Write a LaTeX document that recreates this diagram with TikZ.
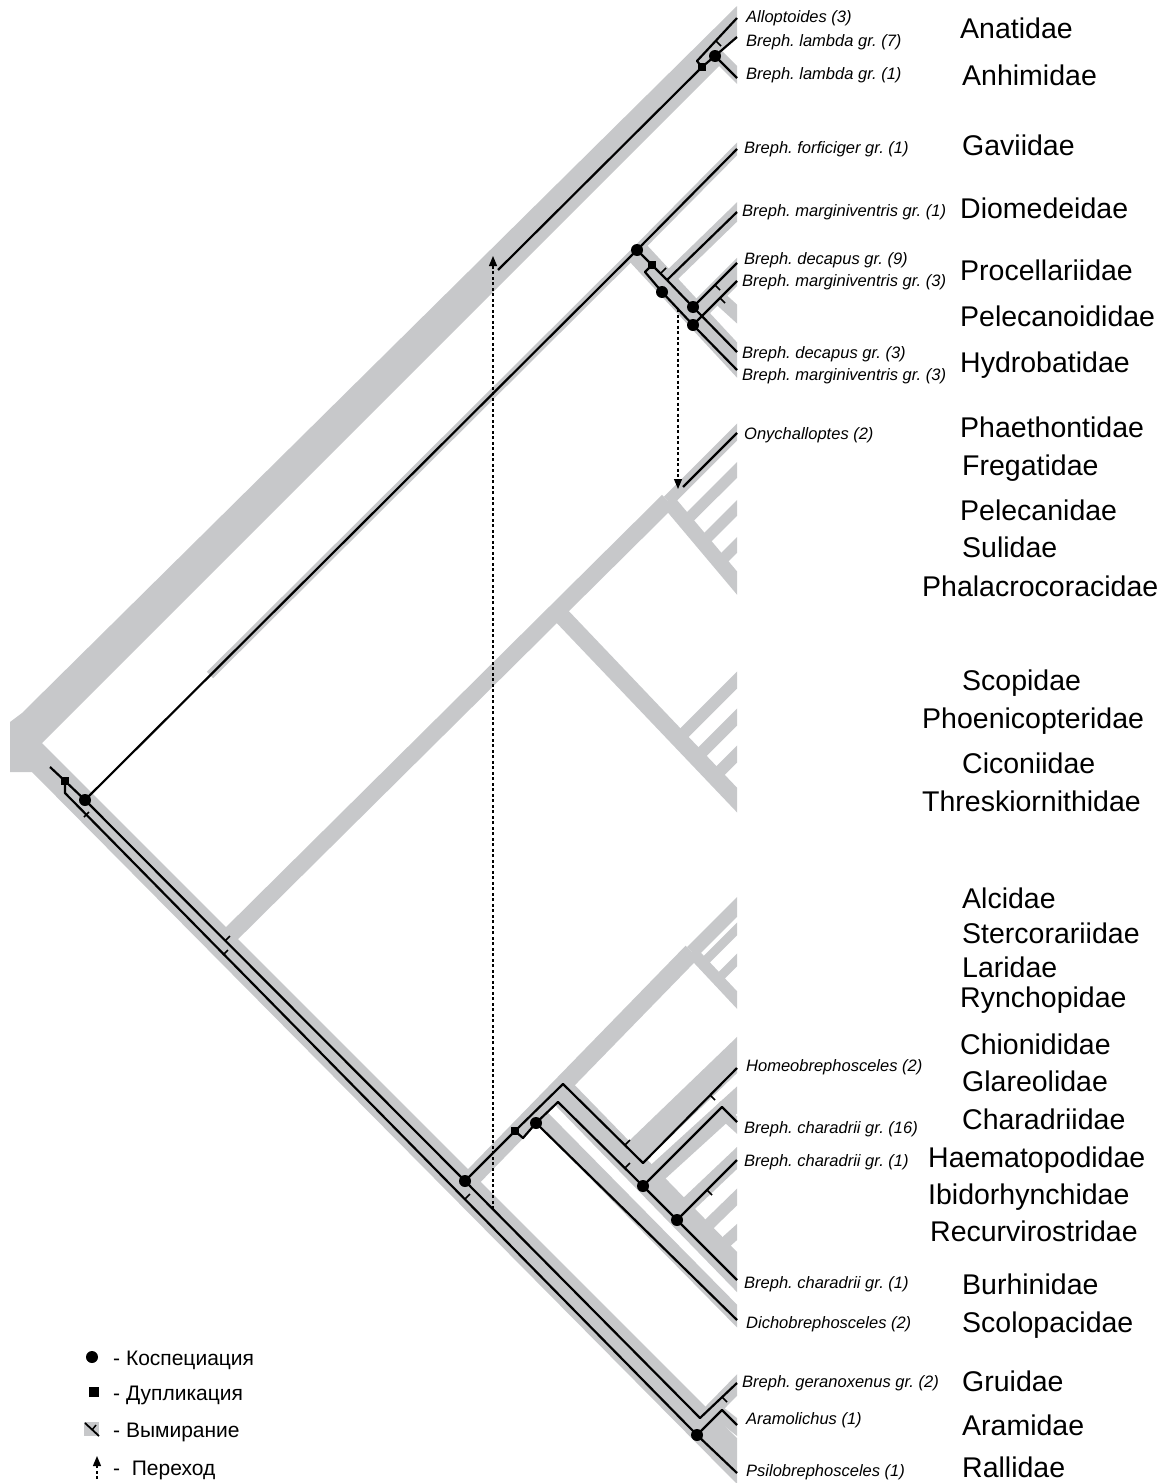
\documentclass[tikz,border=0pt]{standalone}
\usepackage{fontspec}
\setmainfont{Liberation Sans}
\usetikzlibrary{arrows.meta}
\definecolor{hostgray}{RGB}{199,200,202}
\tikzset{
  host/.style={draw=hostgray, line width=#1, line cap=butt},
  tipext/.style={shorten >=-20pt},
  par/.style={draw=black, line width=2.2pt, line join=round},
  dot/.style={circle, fill=black, inner sep=0pt, minimum size=12pt},
  sq/.style={rectangle, fill=black, inner sep=0pt, minimum size=8.5pt},
  tk/.style={draw=black, line width=1.5pt},
  plab/.style={anchor=base west, inner sep=0pt, font=\fontsize{16.5}{18}\selectfont\itshape},
  flab/.style={anchor=base west, inner sep=0pt, font=\fontsize{28.5}{30}\selectfont},
  llab/.style={anchor=base west, inner sep=0pt, font=\fontsize{21}{24}\selectfont},
  sw/.style={draw=black, line width=1.2pt, dash pattern=on 3pt off 2.5pt, -{Triangle[length=10pt,width=8pt]}}
}
\begin{document}
\frenchspacing
\begin{tikzpicture}[x=1pt,y=-1pt]
\useasboundingbox (0,0) rectangle (1171,1483);

% ---------------- host tree (grey) ----------------
\begin{scope}
\clip (0,0) rectangle (737,1483);
\fill[hostgray] (737,6) -- (22,713) -- (10,722) -- (10,772) -- (32,772) -- (737,1484)
  -- (737,1438) -- (42,743) -- (719,66) -- (737,84) -- (737,66) -- (722,51) -- (737,36) -- cycle;
% Gaviidae + Procellariiformes
\draw[host=9] (210,675) -- (637,250);
\draw[host=9,tipext] (637,250) -- (737,149);
\draw[host=24,tipext] (637,252) -- (737,360);
\draw[host=14,tipext] (667,280) -- (737,212);
\draw[host=20,tipext] (693,316) -- (737,272);
\draw[host=14,tipext] (715,294) -- (737,314);
% Neoaves stem, Pelecaniformes, Ciconiiformes
\draw[host=17] (215,950) -- (668,501);
\draw[host=12,tipext] (668,501) -- (737,432);
\draw[host=15,tipext] (668,501) -- (737,583);
\draw[host=11,tipext] (685.3,521.6) -- (737,470);
\draw[host=11,tipext] (702.7,542.3) -- (737,508);
\draw[host=11,tipext] (719.6,562.4) -- (737,545);
\draw[host=17,tipext] (557,611) -- (737,800);
\draw[host=12,tipext] (678.5,738.6) -- (737,680);
\draw[host=12,tipext] (696.5,757.5) -- (737,717);
\draw[host=12,tipext] (714.6,776.5) -- (737,754);
% Charadriiformes
\draw[host=18] (470,1180) -- (692,952);
\draw[host=14,tipext] (692,952) -- (737,907);
\draw[host=12,tipext] (692,952) -- (737,1000);
\draw[host=9,tipext] (702.7,963.4) -- (737,929);
\draw[host=9,tipext] (717.7,979.4) -- (737,960);
\draw[host=16,tipext] (536,1112) -- (737,1316);
\draw[host=28,tipext] (560,1090) -- (737,1272);
\draw[host=26,tipext] (628,1160) -- (737,1055);
\draw[host=20,tipext] (648,1181) -- (737,1100);
\draw[host=13,tipext] (716,1106) -- (737,1125);
\draw[host=16,tipext] (680,1212) -- (737,1158);
\draw[host=12,tipext] (700,1233) -- (737,1197);
\draw[host=12,tipext] (717,1250) -- (737,1232);
% Gruiformes
\draw[host=15,tipext] (695,1428) -- (737,1385);
\draw[host=14,tipext] (713,1408) -- (737,1427);
\end{scope}

% ---------------- parasite coordinates ----------------
\coordinate (r0) at (50,767);
\coordinate (S0) at (65,781);
\coordinate (B0) at (65,793);
\coordinate (D1) at (85,800);
\coordinate (D5) at (465,1181);
\coordinate (Aend) at (700,1418);
\coordinate (D9) at (697,1435);
\coordinate (bAr) at (722,1410);
\coordinate (tGer) at (737,1383);
\coordinate (tAra) at (737,1425);
\coordinate (tPsi) at (737,1473);
% Anseriformes
\coordinate (L0) at (498,270);
\coordinate (S1) at (702,67);
\coordinate (kAl) at (697,61);
\coordinate (Dan) at (715,56);
\coordinate (tAll) at (737,18);
\coordinate (tL7) at (737,37);
\coordinate (tL1) at (737,78);
% Gaviidae / Procellariiformes
\coordinate (D2) at (637,250);
\coordinate (tGav) at (737,149);
\coordinate (S3) at (652,265);
\coordinate (Ps) at (667,280);
\coordinate (tDio) at (737,212);
\coordinate (D4) at (693,307);
\coordinate (kS3) at (645,272);
\coordinate (D3) at (662,292);
\coordinate (D5p) at (693,325);
\coordinate (tDec9) at (737,263);
\coordinate (tDec3) at (737,352);
\coordinate (tMar3a) at (737,281);
\coordinate (tMar3b) at (737,370);
\coordinate (aS2) at (678,309);
\coordinate (aT2) at (678,489);
\coordinate (On0) at (683,487);
\coordinate (tOny) at (737,433);
% Charadriiformes
\coordinate (aS1) at (493,1209);
\coordinate (aT1) at (493,256);
\coordinate (S2) at (515,1131);
\coordinate (C1) at (563,1084);
\coordinate (C2) at (643,1163);
\coordinate (tHom) at (737,1068);
\coordinate (kS2) at (523,1138);
\coordinate (D6) at (536,1123);
\coordinate (kD6) at (558,1102);
\coordinate (D7) at (643,1186);
\coordinate (D8) at (677,1220);
\coordinate (tDic) at (737,1320);
\coordinate (kD7) at (722,1107);
\coordinate (tCh16) at (737,1122);
\coordinate (tHae) at (737,1160);
\coordinate (tBur) at (737,1280);

% ---------------- parasite lines ----------------
\draw[par] (r0) -- (S0) -- (D1);
\draw[par] (S0) -- (B0) -- (D9);
\draw[par] (D1) -- (D5) -- (Aend) -- (tGer);
\draw[par] (D9) -- (bAr) -- (tAra);
\draw[par] (D9) -- (tPsi);
% Anseriformes
\draw[par] (L0) -- (S1);
\draw[par] (S1) -- (kAl) -- (tAll);
\draw[par] (S1) -- (Dan);
\draw[par] (Dan) -- (tL7);
\draw[par] (Dan) -- (tL1);
% Gaviidae / Procellariiformes
\draw[par] (D1) -- (D2);
\draw[par] (D2) -- (tGav);
\draw[par] (D2) -- (S3) -- (Ps);
\draw[par] (Ps) -- (tDio);
\draw[par] (Ps) -- (D4);
\draw[par] (S3) -- (kS3) -- (D3) -- (D5p);
\draw[par] (D4) -- (tDec9);
\draw[par] (D4) -- (tDec3);
\draw[par] (D5p) -- (tMar3a);
\draw[par] (D5p) -- (tMar3b);
\draw[par] (On0) -- (tOny);
% Charadriiformes
\draw[par] (D5) -- (S2) -- (C1) -- (C2) -- (tHom);
\draw[par] (S2) -- (kS2) -- (D6);
\draw[par] (D6) -- (kD6) -- (D7) -- (D8) -- (tBur);
\draw[par] (D6) -- (tDic);
\draw[par] (D7) -- (kD7) -- (tCh16);
\draw[par] (D8) -- (tHae);

% host switches
\draw[sw] (aS1) -- (aT1);
\draw[sw] (aS2) -- (aT2);

% extinction ticks
\draw[tk] (716,41) -- (721,46);
\draw[tk] (84,817) -- (89,812);
\draw[tk] (225,941) -- (230,936);
\draw[tk] (223,955) -- (228,950);
\draw[tk] (465,1199) -- (470,1194);
\draw[tk] (625,1145) -- (630,1140);
\draw[tk] (625,1168) -- (630,1163);
\draw[tk] (710,1095) -- (715,1100);
\draw[tk] (707,1190) -- (712,1195);
\draw[tk] (661,273) -- (666,268);
\draw[tk] (715,285) -- (720,290);
\draw[tk] (720,298) -- (725,303);
\draw[tk] (722,1397) -- (727,1402);

% events
\node[sq] (nS0) at (S0) {};
\node[sq] (nS1) at (S1) {};
\node[sq] (nS2) at (S2) {};
\node[sq] (nS3) at (S3) {};
\node[dot] (nD1) at (D1) {};
\node[dot] (nD2) at (D2) {};
\node[dot] (nD3) at (D3) {};
\node[dot] (nD4) at (D4) {};
\node[dot] (nD5p) at (D5p) {};
\node[dot] (nD5) at (D5) {};
\node[dot] (nD6) at (D6) {};
\node[dot] (nD7) at (D7) {};
\node[dot] (nD8) at (D8) {};
\node[dot] (nD9) at (D9) {};
\node[dot] (nDan) at (Dan) {};

% ---------------- parasite labels ----------------
\node[plab] (p1) at (746,22) {Alloptoides (3)};
\node[plab] (p2) at (746,46) {Breph. lambda gr. (7)};
\node[plab] (p3) at (746,79) {Breph. lambda gr. (1)};
\node[plab] (p4) at (744,153) {Breph. forficiger gr. (1)};
\node[plab] (p5) at (742,216) {Breph. marginiventris gr. (1)};
\node[plab] (p6) at (744,264) {Breph. decapus gr. (9)};
\node[plab] (p7) at (742,286) {Breph. marginiventris gr. (3)};
\node[plab] (p8) at (742,358) {Breph. decapus gr. (3)};
\node[plab] (p9) at (742,380) {Breph. marginiventris gr. (3)};
\node[plab] (p10) at (744,439) {Onychalloptes (2)};
\node[plab] (p11) at (746,1071) {Homeobrephosceles (2)};
\node[plab] (p12) at (744,1133) {Breph. charadrii gr. (16)};
\node[plab] (p13) at (744,1166) {Breph. charadrii gr. (1)};
\node[plab] (p14) at (744,1288) {Breph. charadrii gr. (1)};
\node[plab] (p15) at (746,1328) {Dichobrephosceles (2)};
\node[plab] (p16) at (742,1387) {Breph. geranoxenus gr. (2)};
\node[plab] (p17) at (746,1424) {Aramolichus (1)};
\node[plab] (p18) at (746,1476) {Psilobrephosceles (1)};

% ---------------- host family labels ----------------
\node[flab] (f1) at (960,38) {Anatidae};
\node[flab] (f2) at (962,85) {Anhimidae};
\node[flab] (f3) at (962,155) {Gaviidae};
\node[flab] (f4) at (960,218) {Diomedeidae};
\node[flab] (f5) at (960,280) {Procellariidae};
\node[flab] (f6) at (960,326) {Pelecanoididae};
\node[flab] (f7) at (960,372) {Hydrobatidae};
\node[flab] (f8) at (960,437) {Phaethontidae};
\node[flab] (f9) at (962,475) {Fregatidae};
\node[flab] (f10) at (960,520) {Pelecanidae};
\node[flab] (f11) at (962,557) {Sulidae};
\node[flab] (f12) at (922,596) {Phalacrocoracidae};
\node[flab] (f13) at (962,690) {Scopidae};
\node[flab] (f14) at (922,728) {Phoenicopteridae};
\node[flab] (f15) at (962,773) {Ciconiidae};
\node[flab] (f16) at (922,811) {Threskiornithidae};
\node[flab] (f17) at (962,908) {Alcidae};
\node[flab] (f18) at (962,943) {Stercorariidae};
\node[flab] (f19) at (962,977) {Laridae};
\node[flab] (f20) at (960,1007) {Rynchopidae};
\node[flab] (f21) at (960,1054) {Chionididae};
\node[flab] (f22) at (962,1091) {Glareolidae};
\node[flab] (f23) at (962,1129) {Charadriidae};
\node[flab] (f24) at (928,1167) {Haematopodidae};
\node[flab] (f25) at (928,1204) {Ibidorhynchidae};
\node[flab] (f26) at (930,1241) {Recurvirostridae};
\node[flab] (f27) at (962,1294) {Burhinidae};
\node[flab] (f28) at (962,1332) {Scolopacidae};
\node[flab] (f29) at (962,1391) {Gruidae};
\node[flab] (f30) at (962,1435) {Aramidae};
\node[flab] (f31) at (962,1477) {Rallidae};

% ---------------- legend ----------------
\node[dot] (lgDot) at (92,1357) {};
\node[llab] (lg1) at (113,1365) {- Коспециация};
\node[sq, minimum size=10pt] (lgSq) at (94,1392) {};
\node[llab] (lg2) at (113,1400) {- Дупликация};
\fill[hostgray] (84,1422) rectangle (99,1436);
\coordinate (lgE0) at (85,1423);
\coordinate (lgE1) at (99,1436);
\draw[par, line width=1.8pt] (lgE0) -- (lgE1);
\draw[tk] (92,1430) -- (96,1425);
\node[llab] (lg3) at (113,1437) {- Вымирание};
\coordinate (lgA0) at (97,1479);
\coordinate (lgA1) at (97,1456);
\draw[sw] (lgA0) -- (lgA1);
\node[llab] (lg4) at (113,1475) {-~~Переход};
\end{tikzpicture}
\end{document}
